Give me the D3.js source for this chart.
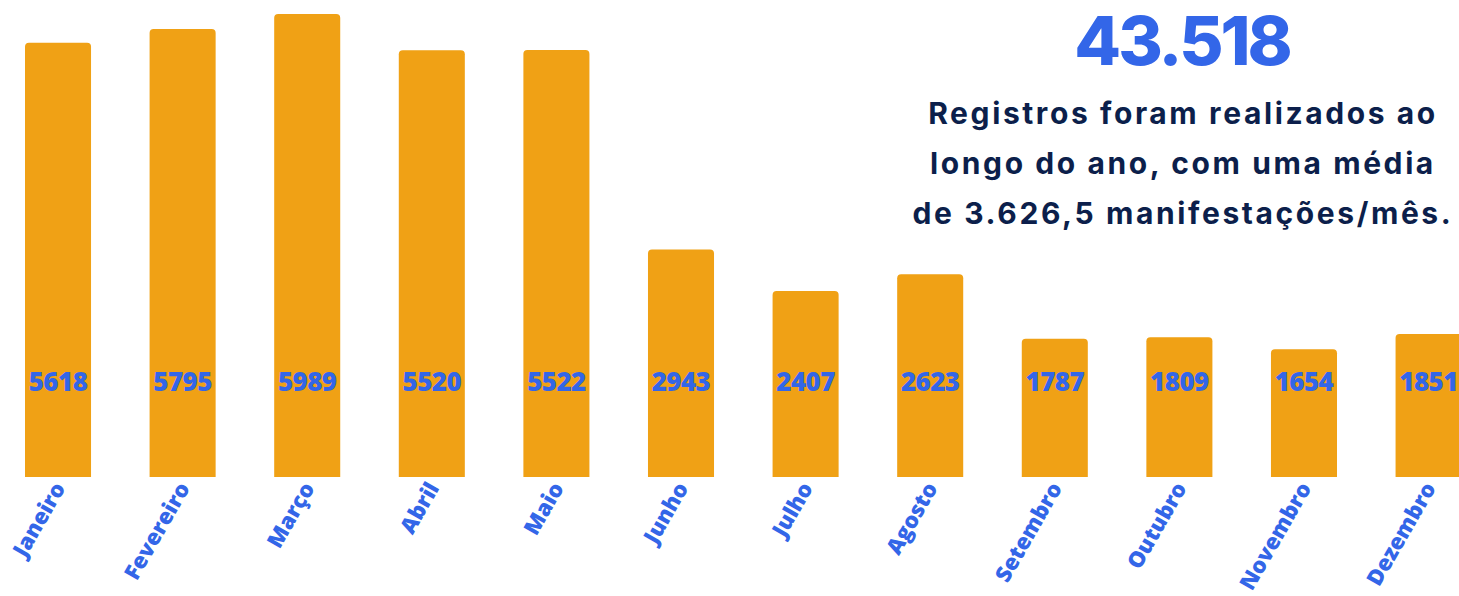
<!DOCTYPE html>
<html>
<head>
<meta charset="utf-8">
<script src="https://cdn.jsdelivr.net/npm/d3@7"></script>
<style>
  body { margin: 0; background: #fff; }
  svg { display: block; }
</style>
</head>
<body>
<div id="wrapper"></div>
<script>
// data
const months = ['Janeiro', 'Fevereiro', 'Março', 'Abril', 'Maio', 'Junho',
  'Julho', 'Agosto', 'Setembro', 'Outubro', 'Novembro', 'Dezembro'];
const registros = [5618, 5795, 5989, 5520, 5522, 2943, 2407, 2623, 1787, 1809, 1654, 1851];
const totalLabel = '43.518';
const textLines = [
  'Registros foram realizados ao',
  'longo do ano, com uma média',
  'de 3.626,5 manifestações/mês.'
];

function drawChart() {
  const width = 1459, height = 596;
  const baseline = 477;

  const svg = d3.select('#wrapper').append('svg')
    .attr('width', width)
    .attr('height', height);

  // scales
  const x = d3.scaleBand()
    .domain(months)
    .range([25, 1461.6])
    .paddingInner(0.47)
    .paddingOuter(0);

  const y = d3.scaleLinear()
    .domain([0, 5989])
    .range([baseline, 14]);

  const data = months.map((m, i) => ({ month: m, value: registros[i] }));

  // bars with rounded tops
  const r = 4;
  const barPath = d => {
    const x0 = x(d.month), x1 = x0 + x.bandwidth();
    const y0 = y(d.value), y1 = y(0);
    return `M${x0},${y1}V${y0 + r}Q${x0},${y0} ${x0 + r},${y0}H${x1 - r}Q${x1},${y0} ${x1},${y0 + r}V${y1}Z`;
  };

  svg.selectAll('.bar')
    .data(data)
    .enter().append('path')
    .attr('class', 'bar')
    .attr('d', barPath)
    .attr('fill', '#F0A115');

  // value labels
  svg.selectAll('.value')
    .data(data)
    .enter().append('text')
    .attr('class', 'value')
    .attr('x', d => x(d.month) + x.bandwidth() / 2)
    .attr('y', 391)
    .attr('text-anchor', 'middle')
    .style('font-family', '"Open Sans", sans-serif')
    .style('font-weight', 800)
    .style('font-size', '26px')
    .style('letter-spacing', '-0.6px')
    .attr('fill', '#3366E8')
    .text(d => d.value);

  // month labels
  svg.selectAll('.month')
    .data(months)
    .enter().append('text')
    .attr('class', 'month')
    .attr('transform', d => `translate(${x(d) + x.bandwidth() / 2 + 8}, 488) rotate(-60)`)
    .attr('text-anchor', 'end')
    .style('font-family', '"Open Sans", sans-serif')
    .style('font-weight', 800)
    .style('font-size', '22px')
    .attr('fill', '#3366E8')
    .text(d => d);

  // headline number
  svg.append('text')
    .attr('x', 1182)
    .attr('y', 65)
    .attr('text-anchor', 'middle')
    .style('font-family', 'Inter, sans-serif')
    .style('font-weight', 800)
    .style('font-size', '68px')
    .style('letter-spacing', '-3px')
    .attr('fill', '#3366E8')
    .text(totalLabel);

  // description text
  svg.selectAll('.desc')
    .data(textLines)
    .enter().append('text')
    .attr('class', 'desc')
    .attr('x', 1183)
    .attr('y', (d, i) => 124 + i * 50)
    .attr('text-anchor', 'middle')
    .style('font-family', 'Inter, sans-serif')
    .style('font-weight', 700)
    .style('font-size', '30px')
    .style('letter-spacing', '2.6px')
    .attr('fill', '#0C1F4B')
    .text(d => d);
}

drawChart();
</script>
</body>
</html>
